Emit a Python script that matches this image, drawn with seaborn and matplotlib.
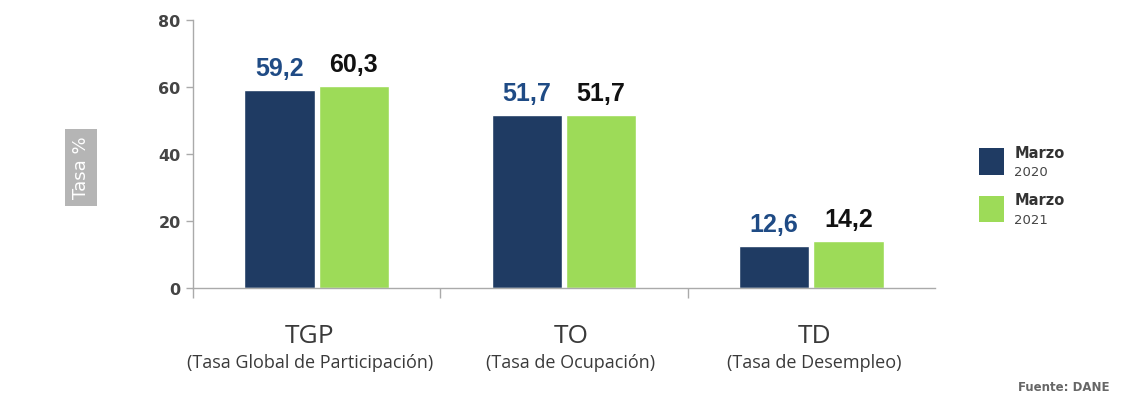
import matplotlib
matplotlib.use("Agg")
import matplotlib.pyplot as plt
import matplotlib.patches as mpatches
import matplotlib.transforms as mtransforms
import pandas as pd
import seaborn as sns

# data
categories = ["TGP", "TO", "TD"]
category_names = ["(Tasa Global de Participación)", "(Tasa de Ocupación)", "(Tasa de Desempleo)"]
years = ["2020", "2021"]
values_2020 = [59.2, 51.7, 12.6]
values_2021 = [60.3, 51.7, 14.2]
y_ticks = [0, 20, 40, 60, 80]

bar_colors = ["#1f3b63", "#9ddb58"]
label_colors = ["#1f4b85", "#111111"]

df = pd.DataFrame({
    "Indicador": categories * 2,
    "Año": [years[0]] * 3 + [years[1]] * 3,
    "Tasa": values_2020 + values_2021,
})

sns.set_style("white")
plt.rcParams["font.family"] = ["DejaVu Sans"]

fig = plt.figure(figsize=(11.45, 4.06), dpi=100)
ax = fig.add_axes([0.1686, 0.288, 0.648, 0.660])

sns.barplot(data=df, x="Indicador", y="Tasa", hue="Año", order=categories,
            hue_order=years, palette=bar_colors, width=0.6, gap=0.05,
            saturation=1, legend=False, ax=ax)

# value labels with decimal comma
for cont, col in zip(ax.containers, label_colors):
    labs = [f"{b.get_height():.1f}".replace(".", ",") for b in cont]
    ax.bar_label(cont, labels=labs, padding=7, fontsize=18, fontweight="bold",
                 color=col, family="Liberation Sans")

ax.set_xlim(-0.5, 2.5)
ax.set_ylim(0, 80)
ax.set_yticks(y_ticks)
ax.set_yticklabels([str(t) for t in y_ticks], fontsize=11.5, color="#444444", fontweight="bold")
ax.tick_params(axis="y", length=5, width=1, color="#aaaaaa", left=True, pad=4)

ax.set_xticks(range(len(categories)))
ax.set_xticklabels([])
ax.tick_params(axis="x", which="major", length=0)
ax.set_xticks([-0.5, 0.5, 1.5], minor=True)
ax.tick_params(axis="x", which="minor", length=7, width=1, color="#aaaaaa", bottom=True)

ax.set_xlabel("")
ax.set_ylabel("")
for side in ["top", "right"]:
    ax.spines[side].set_visible(False)
for side in ["left", "bottom"]:
    ax.spines[side].set_color("#aaaaaa")
    ax.spines[side].set_linewidth(1)

# category labels under the axis (slightly shifted like the original layout)
label_shift = [-0.028, 0.028, 0.012]
trans = mtransforms.blended_transform_factory(ax.transData, ax.transAxes)
for i, (c, n) in enumerate(zip(categories, category_names)):
    ax.text(i + label_shift[i], -0.178, c, transform=trans, ha="center", va="center",
            fontsize=19, color="#3a3a3a", family="Open Sans")
    ax.text(i + label_shift[i], -0.275, n, transform=trans, ha="center", va="center",
            fontsize=13, color="#3a3a3a", family="Open Sans")

# y axis label in grey box
fig.text(0.0707, 0.586, "Tasa %", rotation=90, ha="center", va="center",
         fontsize=13, color="white",
         bbox=dict(boxstyle="square,pad=0.4", facecolor="#b5b5b5", edgecolor="none"))

# legend
leg_y = [0.599, 0.482]
for yy, col, yr in zip(leg_y, bar_colors, years):
    fig.patches.append(mpatches.Rectangle((0.855, yy - 0.032), 0.022, 0.066,
                                          transform=fig.transFigure, facecolor=col,
                                          edgecolor="none"))
    fig.text(0.886, yy + 0.023, "Marzo", fontsize=10.5, fontweight="bold",
             color="#333333", ha="left", va="center")
    fig.text(0.886, yy - 0.024, yr, fontsize=9.5, color="#444444", ha="left", va="center")

fig.text(0.969, 0.045, "Fuente: DANE", fontsize=8.5, fontweight="bold",
         color="#666666", ha="right", va="center")

fig.savefig("out.png", dpi=100)
